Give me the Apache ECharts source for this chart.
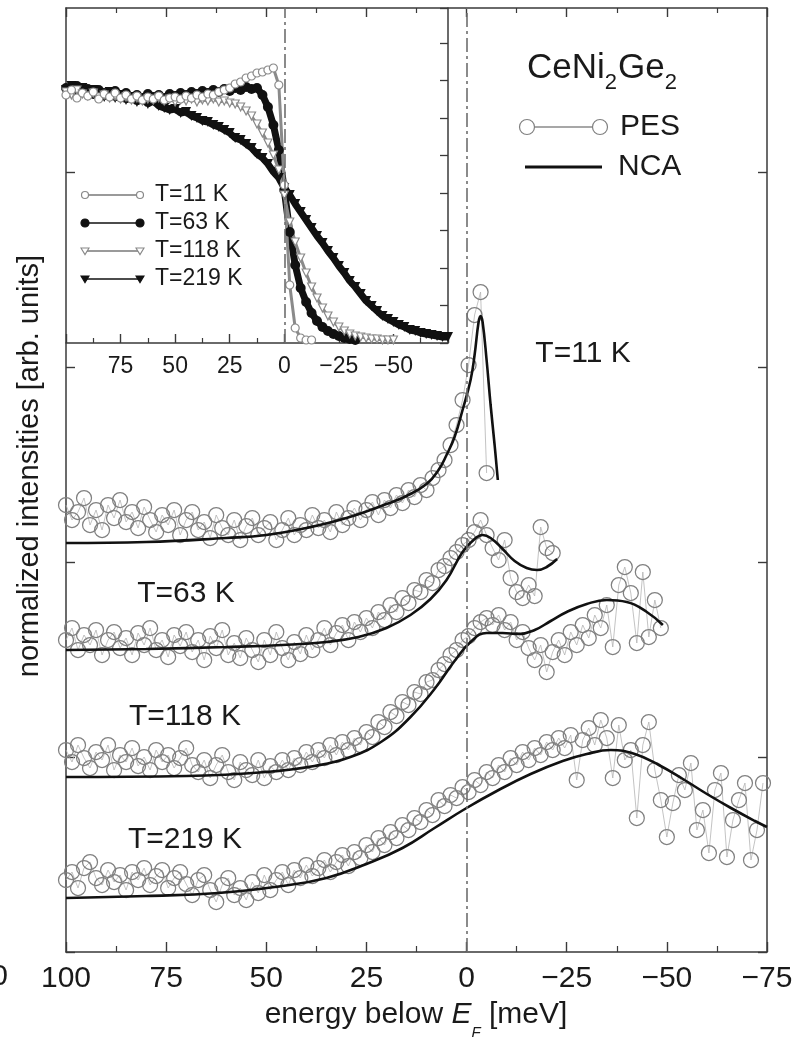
<!DOCTYPE html>
<html><head><meta charset="utf-8">
<script src="https://cdn.jsdelivr.net/npm/echarts@6/dist/echarts.min.js"></script>
<style>html,body{margin:0;padding:0;background:#fff}#c{width:803px;height:1037px}</style>
</head><body><div id="c"></div>
<script>
// ---------------- data ----------------
// energy axis (meV below E_F), shown reversed
const xTickLabels = [100, 75, 50, 25, 0, -25, -50, -75];
const yTickValues = [0, 1.95, 3.90, 5.85, 7.80];
const tempLabels = ['T=11 K', 'T=63 K', 'T=118 K', 'T=219 K'];

// PES spectra, sampled every 1.5 meV starting at 100 meV
const pesStart = 100, pesStep = 1.5;
const pes11 = [4.47,4.32,4.40,4.54,4.27,4.42,4.22,4.47,4.34,4.52,
  4.30,4.40,4.24,4.45,4.32,4.20,4.37,4.27,4.42,4.17,
  4.32,4.40,4.22,4.30,4.14,4.37,4.24,4.17,4.32,4.12,
  4.26,4.34,4.17,4.24,4.30,4.12,4.22,4.34,4.17,4.27,
  4.22,4.37,4.24,4.32,4.20,4.40,4.27,4.34,4.44,4.32,
  4.42,4.50,4.37,4.52,4.44,4.57,4.49,4.62,4.55,4.67,
  4.62,4.74,4.82,4.92,5.07,5.27,5.52,5.87,6.37,6.60,
  4.79];
const pes63 = [3.12,3.24,3.02,3.17,3.07,3.22,2.97,3.12,3.20,3.04,
  3.14,2.97,3.19,3.07,3.24,3.02,3.12,2.95,3.17,3.06,
  3.20,3.00,3.12,2.92,3.16,3.04,3.22,2.97,3.09,2.94,
  3.14,3.02,2.90,3.12,2.97,3.20,3.04,2.92,3.10,2.98,
  3.17,3.02,3.12,3.24,3.07,3.19,3.27,3.12,3.30,3.20,
  3.34,3.24,3.40,3.32,3.47,3.40,3.54,3.49,3.62,3.60,
  3.72,3.69,3.82,3.86,3.94,4.00,4.07,4.12,4.20,4.32,
  4.17,4.04,3.92,4.12,3.74,3.60,3.54,3.67,3.56,4.25,
  4.04,3.99];
const pes118 = [2.02,1.90,2.07,1.94,1.84,2.00,1.92,2.07,1.82,1.97,
  1.90,2.04,1.86,1.95,1.82,2.02,1.90,1.97,1.84,1.94,
  2.04,1.87,1.80,1.92,1.74,1.87,1.97,1.80,1.72,1.90,
  1.82,1.77,1.92,1.74,1.86,1.80,1.92,1.82,1.94,1.87,
  2.00,1.90,2.02,1.94,2.07,1.97,2.10,2.02,2.14,2.07,
  2.20,2.15,2.30,2.25,2.40,2.36,2.50,2.47,2.60,2.58,
  2.70,2.72,2.82,2.88,2.97,3.02,3.12,3.16,3.24,3.30,
  3.34,3.27,3.37,3.22,3.30,3.12,3.20,3.04,2.92,3.07,
  2.80,3.00,3.12,2.97,3.20,3.07,3.27,3.14,3.37,3.24,
  3.47,3.05,3.67,3.85,3.59,3.09,3.80,3.15,3.52,3.24];
const pes219 = [0.72,0.80,0.64,0.84,0.90,0.74,0.67,0.82,0.70,0.77,
  0.62,0.80,0.72,0.84,0.67,0.76,0.82,0.64,0.74,0.80,
  0.68,0.57,0.72,0.77,0.62,0.50,0.67,0.74,0.57,0.64,
  0.52,0.70,0.59,0.77,0.62,0.72,0.80,0.67,0.82,0.74,
  0.87,0.76,0.84,0.92,0.80,0.90,0.97,0.86,1.00,0.94,
  1.07,1.00,1.14,1.07,1.20,1.14,1.27,1.22,1.34,1.30,
  1.42,1.37,1.52,1.46,1.57,1.54,1.65,1.60,1.72,1.67,
  1.80,1.74,1.87,1.80,1.94,1.87,2.00,1.92,2.04,1.97,
  2.10,2.02,2.14,2.04,2.17,1.72,2.12,2.24,2.07,2.32,
  2.14,1.74,2.27,1.92,2.02,1.34,2.07,2.30,1.82,1.52,
  1.15,1.49,1.77,1.62,1.89,1.22,1.42,0.99,1.62,1.79,
  0.95,1.32,1.52,1.69,0.92,1.22,1.69];

// NCA fits (energy, intensity)
const nca11E = [100,80,60,50,40,30,20,15,10,7,5,3,1,-1,-2,-3,-3.5,-4,-5,-6,-7,-7.8];
const nca11V = [4.09,4.10,4.14,4.17,4.24,4.34,4.48,4.56,4.68,4.82,4.97,5.15,5.42,5.72,5.97,6.30,6.36,6.30,5.92,5.47,5.07,4.72];
const nca63E = [100,80,60,46,35,27,20,14,9,5,1,-2,-4,-6,-9,-12,-15,-17.6,-20,-22.6];
const nca63V = [3.02,3.03,3.05,3.07,3.10,3.15,3.24,3.37,3.53,3.72,4.00,4.13,4.17,4.14,4.03,3.91,3.84,3.82,3.85,3.93];
const nca118E = [100,70,50,38,29,21,14,8,3,-1,-5,-9,-13,-17,-21,-25,-30,-35,-40,-45,-49];
const nca118V = [1.75,1.76,1.80,1.86,1.95,2.11,2.35,2.63,2.91,3.10,3.19,3.19,3.18,3.22,3.31,3.40,3.48,3.52,3.50,3.40,3.27];
const nca219E = [100,80,62,46,35,25,16,8,0,-8,-16,-24,-30,-36,-42,-48,-54,-60,-66,-72,-75];
const nca219V = [0.54,0.56,0.59,0.66,0.74,0.88,1.04,1.24,1.44,1.62,1.78,1.91,1.98,2.02,1.98,1.87,1.73,1.58,1.44,1.31,1.25];

// inset: spectra sampled every 2.5 meV starting at 100 meV
const insStart = 100, insStep = 2.5;
const ins11 = [2.48,2.53,2.45,2.50,2.47,2.51,2.44,2.49,2.46,2.50,
  2.45,2.48,2.44,2.47,2.43,2.46,2.44,2.47,2.43,2.45,
  2.46,2.44,2.47,2.45,2.48,2.46,2.49,2.48,2.51,2.53,
  2.55,2.59,2.61,2.65,2.67,2.70,2.71,2.73,2.75,2.58,
  1.58,0.58,0.15,0.05,0.03,0.03];
const ins63 = [2.55,2.51,2.57,2.52,2.54,2.49,2.53,2.50,2.48,2.52,
  2.47,2.50,2.46,2.48,2.45,2.49,2.46,2.48,2.45,2.49,
  2.47,2.50,2.48,2.51,2.49,2.52,2.50,2.53,2.51,2.54,
  2.52,2.55,2.53,2.56,2.54,2.55,2.48,2.36,2.18,1.93,
  1.53,1.11,0.78,0.55,0.41,0.30,0.22,0.16,0.12,0.09,
  0.07,0.05,0.04,0.03];
const ins118 = [2.51,2.48,2.53,2.49,2.47,2.50,2.46,2.48,2.45,2.47,
  2.44,2.46,2.43,2.45,2.42,2.44,2.43,2.45,2.42,2.44,
  2.41,2.43,2.42,2.44,2.41,2.43,2.42,2.44,2.41,2.42,
  2.40,2.39,2.36,2.32,2.27,2.19,2.10,2.00,1.88,1.73,
  1.48,1.21,1.01,0.85,0.70,0.56,0.45,0.35,0.27,0.21,
  0.16,0.12,0.09,0.07,0.06,0.05,0.04,0.04,0.03,0.03,
  0.03];
const ins219 = [2.53,2.57,2.50,2.55,2.48,2.53,2.49,2.46,2.51,2.45,
  2.48,2.43,2.46,2.41,2.44,2.39,2.42,2.37,2.35,2.33,
  2.34,2.30,2.31,2.27,2.25,2.22,2.21,2.18,2.16,2.13,
  2.10,2.05,2.03,1.99,1.95,1.89,1.85,1.79,1.71,1.65,
  1.55,1.48,1.39,1.31,1.23,1.15,1.07,1.00,0.92,0.85,
  0.77,0.70,0.62,0.56,0.49,0.42,0.37,0.32,0.27,0.24,
  0.21,0.18,0.16,0.13,0.12,0.10,0.09,0.08,0.07,0.06,
  0.06];

// ---------------- helpers ----------------
const onGrid = (start, step, vals) => vals.map((v, i) => [+(start - i * step).toFixed(2), v]);
const pairs = (es, vs) => es.map((e, i) => [e, vs[i]]);
const FAM = "'Liberation Sans', Arial, Helvetica, sans-serif";
const INK = '#1a1a1a', AX = '#3a3a3a';
const fmt = v => (v < 0 ? '\u2212' + Math.abs(v) : String(v));
const mctx = document.createElement('canvas').getContext('2d');
function measure(s, size, style) { mctx.font = (style || 'normal') + ' ' + size + 'px ' + FAM; return mctx.measureText(s).width; }

function pesSeries(vals) {
  return {type: 'line', xAxisIndex: 0, yAxisIndex: 0, data: onGrid(pesStart, pesStep, vals),
    symbol: 'circle', symbolSize: 15, showAllSymbol: true, clip: false,
    itemStyle: {color: 'rgba(255,255,255,0)', borderColor: '#808080', borderWidth: 1.25},
    lineStyle: {color: '#b4b4b4', width: 0.8}, z: 2, silent: true};
}
function ncaSeries(es, vs, extra) {
  return Object.assign({type: 'line', xAxisIndex: 0, yAxisIndex: 0, data: pairs(es, vs),
    showSymbol: false, smooth: 0.45,
    lineStyle: {color: '#111', width: 2.6}, z: 4, silent: true}, extra || {});
}
function insSeries(vals, symbol, filled, color, extra) {
  return Object.assign({type: 'line', xAxisIndex: 2, yAxisIndex: 2, data: onGrid(insStart, insStep, vals),
    symbol: symbol, symbolRotate: symbol === 'triangle' ? 180 : 0, symbolSize: filled ? 10 : 8,
    showAllSymbol: true, clip: false,
    itemStyle: filled ? {color: color} : {color: '#fff', borderColor: color, borderWidth: 1.2},
    lineStyle: {color: color, width: filled ? 7 : 3}, z: 3, silent: true}, extra || {});
}
const dashDot = {silent: true, symbol: ['none', 'none'], label: {show: false},
  lineStyle: {type: [14, 4, 3, 4], color: '#6e6e6e', width: 1.6}, data: [{xAxis: 0}]};

const axisCommon = (gi, pos, labels, size) => ({
  gridIndex: gi, type: 'value', min: -75, max: 100, interval: 25, inverse: true, position: pos,
  axisLine: {show: true, onZero: false, lineStyle: {color: AX, width: 1.5}},
  axisTick: {show: true, inside: true, length: size, lineStyle: {color: AX, width: 1.4}},
  minorTick: {show: true, splitNumber: 2, length: Math.round(size * 0.6), lineStyle: {color: AX, width: 1.2}},
  splitLine: {show: false}, minorSplitLine: {show: false},
  axisLabel: labels
});

// legend pieces (graphic)
function triDown(cx, cy, s, fill, stroke) {
  return {type: 'polygon', shape: {points: [[cx - s, cy - s * 0.75], [cx + s, cy - s * 0.75], [cx, cy + s * 0.9]]},
    style: {fill: fill, stroke: stroke, lineWidth: 1.1}};
}
function circ(cx, cy, r, fill, stroke, lw) {
  return {type: 'circle', shape: {cx: cx, cy: cy, r: r}, style: {fill: fill, stroke: stroke, lineWidth: lw || 1.2}};
}
function seg(x1, y1, x2, y2, color, w) {
  return {type: 'line', shape: {x1: x1, y1: y1, x2: x2, y2: y2}, style: {stroke: color, lineWidth: w}};
}
function txt(x, y, s, size, align, extra) {
  return {type: 'text', x: x, y: y, style: Object.assign({text: s, fontSize: size, fontFamily: FAM, fill: INK,
    align: align || 'left', verticalAlign: 'middle'}, extra || {})};
}
// text placed by alphabetic baseline (middle = baseline - 0.3465 * size)
function base(x, baseline, s, size, italic) {
  return txt(x, baseline - 0.3465 * size, s, size, 'left', italic ? {fontStyle: 'italic'} : {});
}

const g = [];
// inset legend
const insLegY = [195, 223, 251, 279];
g.push(seg(85, insLegY[0], 140, insLegY[0], '#9a9a9a', 2.2), circ(85, insLegY[0], 3.5, '#fff', '#888'), circ(140, insLegY[0], 3.5, '#fff', '#888'));
g.push(seg(85, insLegY[1], 140, insLegY[1], '#111', 1.6), circ(85, insLegY[1], 4, '#111', '#111'), circ(140, insLegY[1], 4, '#111', '#111'));
g.push(seg(85, insLegY[2], 140, insLegY[2], '#9a9a9a', 2.2), triDown(85, insLegY[2], 4, '#fff', '#888'), triDown(140, insLegY[2], 4, '#fff', '#888'));
g.push(seg(85, insLegY[3], 140, insLegY[3], '#111', 1.6), triDown(85, insLegY[3], 4, '#111', '#111'), triDown(140, insLegY[3], 4, '#111', '#111'));
tempLabels.forEach((t, i) => g.push(txt(155, insLegY[i], t, 23)));
// main legend
g.push(seg(527, 127, 600, 127, '#8a8a8a', 1.6), circ(527, 127, 7.5, '#fff', '#808080'), circ(600, 127, 7.5, '#fff', '#808080'));
g.push(txt(620, 127, 'PES', 30));
g.push(seg(525, 167, 602, 167, '#111', 3));
g.push(txt(618, 167, 'NCA', 30));
// compound name CeNi2Ge2 with subscripts
(function () {
  let x = 527;
  const parts = [['CeNi', 35, 80], ['2', 22, 91], ['Ge', 35, 80], ['2', 22, 91]];
  parts.forEach(p => { g.push(base(x, p[2], p[0], p[1])); x += measure(p[0], p[1]) + (p[1] === 22 ? 1 : 0); });
})();
// temperature labels in main panel
const tempPos = [[583, 354], [186, 594], [185, 717], [185, 840]];
tempLabels.forEach((t, i) => g.push(txt(tempPos[i][0], tempPos[i][1], t, 30, 'center')));
// axis titles
g.push({type: 'text', x: 30, y: 466, rotation: Math.PI / 2, style: {text: 'normalized intensities [arb. units]',
  fontSize: 29, fontFamily: FAM, fill: INK, align: 'center', verticalAlign: 'middle'}});
(function () {
  const parts = [['energy below ', 30, 1025, false], ['E', 30, 1025, true], ['F', 15, 1038, true], [' [meV]', 30, 1025, false]];
  const w = parts.reduce((s, p) => s + measure(p[0], p[1], p[3] ? 'italic' : 'normal'), 0);
  let x = 416 - w / 2;
  parts.forEach(p => { g.push(base(x, p[2], p[0], p[1], p[3])); x += measure(p[0], p[1], p[3] ? 'italic' : 'normal'); });
})();
// cut-off tick label of the neighbouring panel
g.push(txt(8, 977, '0', 30, 'right'));

const chart = echarts.init(document.getElementById('c'), null, {renderer: 'canvas'});
chart.setOption({
  animation: false,
  backgroundColor: '#fff',
  grid: [
    {left: 66, top: 8, width: 701, height: 944},
    {left: 66, top: 8, width: 382, height: 335}
  ],
  xAxis: [
    axisCommon(0, 'bottom', {show: true, fontSize: 30, color: INK, fontFamily: FAM, margin: 12, formatter: fmt,
      customValues: xTickLabels}, 10),
    axisCommon(0, 'top', {show: false}, 9),
    axisCommon(1, 'bottom', {show: true, fontSize: 23, color: INK, fontFamily: FAM, margin: 12, formatter: fmt,
      showMinLabel: false, showMaxLabel: false}, 9)
  ],
  yAxis: [
    {gridIndex: 0, type: 'value', min: 0, max: 9.44, position: 'left',
      axisLine: {show: true, onZero: false, lineStyle: {color: AX, width: 1.5}},
      axisTick: {show: true, inside: true, length: 9, customValues: yTickValues, lineStyle: {color: AX, width: 1.4}},
      axisLabel: {show: false}, splitLine: {show: false}},
    {gridIndex: 0, type: 'value', min: 0, max: 9.44, position: 'right',
      axisLine: {show: true, onZero: false, lineStyle: {color: AX, width: 1.5}},
      axisTick: {show: true, inside: true, length: 9, customValues: yTickValues, lineStyle: {color: AX, width: 1.4}},
      axisLabel: {show: false}, splitLine: {show: false}},
    {gridIndex: 1, type: 'value', min: 0, max: 3.35, interval: 0.375, position: 'right',
      axisLine: {show: true, onZero: false, lineStyle: {color: AX, width: 1.5}},
      axisTick: {show: true, inside: true, length: 8, lineStyle: {color: AX, width: 1.3}},
      axisLabel: {show: false}, splitLine: {show: false}}
  ],
  series: [
    pesSeries(pes11), pesSeries(pes63), pesSeries(pes118), pesSeries(pes219),
    ncaSeries(nca11E, nca11V, {markLine: dashDot}),
    ncaSeries(nca63E, nca63V), ncaSeries(nca118E, nca118V), ncaSeries(nca219E, nca219V),
    insSeries(ins219, 'triangle', true, '#111', {markLine: dashDot}),
    insSeries(ins63, 'circle', true, '#111'),
    insSeries(ins118, 'triangle', false, '#8a8a8a'),
    insSeries(ins11, 'circle', false, '#8a8a8a')
  ],
  graphic: {elements: g}
});
</script></body></html>
